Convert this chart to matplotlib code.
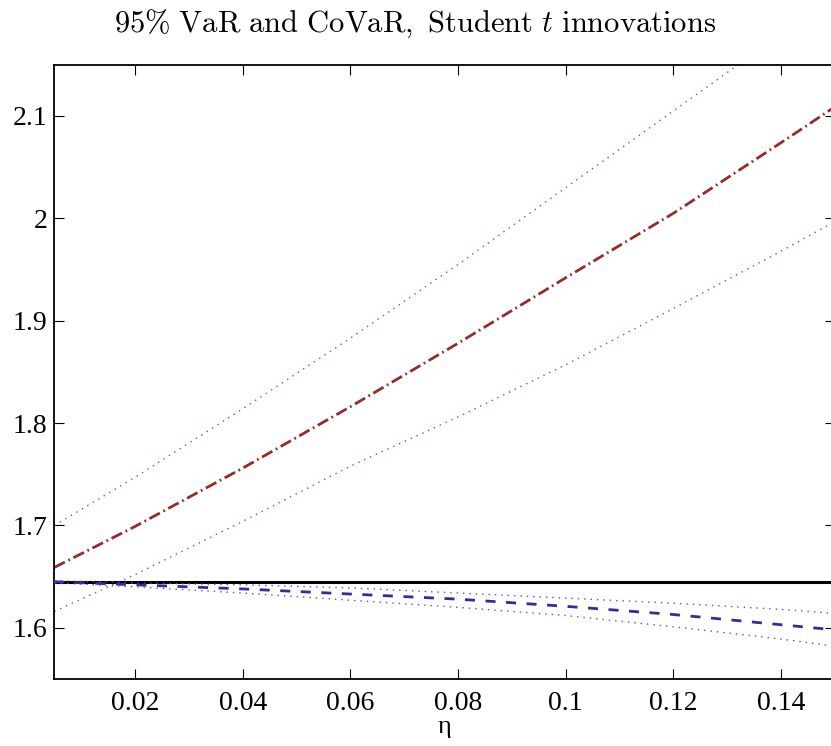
import matplotlib
matplotlib.use("Agg")
import matplotlib.pyplot as plt
import numpy as np

plt.rcParams['mathtext.fontset'] = 'cm'
plt.rcParams['font.family'] = ['Liberation Serif', 'DejaVu Serif']
plt.rcParams['lines.scale_dashes'] = False

# eta grid
eta = [0.005, 0.02, 0.04, 0.06, 0.08, 0.10, 0.12, 0.14, 0.15]

var_level = 1.645

covar = [1.659, 1.699, 1.756, 1.816, 1.878, 1.942, 2.005, 2.074, 2.109]
covar_hi = [1.700, 1.747, 1.814, 1.883, 1.955, 2.030, 2.105, 2.180, 2.220]
covar_lo = [1.616, 1.652, 1.704, 1.758, 1.806, 1.857, 1.912, 1.968, 1.997]

var_est = [1.645, 1.642, 1.638, 1.633, 1.628, 1.621, 1.613, 1.603, 1.598]
var_hi = [1.646, 1.644, 1.642, 1.639, 1.634, 1.629, 1.624, 1.618, 1.614]
var_lo = [1.644, 1.640, 1.634, 1.627, 1.620, 1.612, 1.601, 1.589, 1.582]

xticks = [0.02, 0.04, 0.06, 0.08, 0.1, 0.12, 0.14]
xticklabels = ['0.02', '0.04', '0.06', '0.08', '0.1', '0.12', '0.14']
yticks = [1.6, 1.7, 1.8, 1.9, 2.0, 2.1]
yticklabels = ['1.6', '1.7', '1.8', '1.9', '2', '2.1']

red = '#9a2a2a'
red_light = '#b24848'
blue = '#2e2e9e'
blue_light = '#5252c0'

fig = plt.figure(figsize=(8.31, 7.46), dpi=100)
ax = fig.add_axes([54.3 / 831, 1 - 679 / 746, (835 - 54.3) / 831, (679 - 64.8) / 746])

ax.axhline(var_level, color='black', lw=2.2, zorder=3)

l, = ax.plot(eta, covar, color=red, lw=2.0)
l.set_dashes((8.5, 2.8, 1.3, 2.8))
for ys in (covar_hi, covar_lo):
    l, = ax.plot(eta, ys, color=red_light, lw=1.0)
    l.set_dashes((1.0, 3.6))

l, = ax.plot(eta, var_est, color=blue, lw=2.0, zorder=4)
l.set_dashes((7.2, 7.6))
for ys in (var_hi, var_lo):
    l, = ax.plot(eta, ys, color=blue_light, lw=1.0, zorder=4)
    l.set_dashes((1.0, 3.6))

ax.set_xlim(0.005, 0.15)
ax.set_ylim(1.55, 2.15)
ax.set_xticks(xticks)
ax.set_xticklabels(xticklabels)
ax.set_yticks(yticks)
ax.set_yticklabels(yticklabels)
ax.tick_params(direction='in', length=7, width=0.8, top=True, right=True,
               labelsize=20)
ax.tick_params(axis='x', pad=9)
ax.tick_params(axis='y', pad=5)
for s in ax.spines.values():
    s.set_linewidth(1.3)

ax.set_xlabel('η', fontsize=19, labelpad=0)
fig.text(0.5, 1 - 24 / 746,
         r'$\mathrm{95\%\ VaR\ and\ CoVaR,\ Student\ }t\mathrm{\ innovations}$',
         ha='center', va='center', fontsize=22)

fig.savefig('out.png', dpi=100)
